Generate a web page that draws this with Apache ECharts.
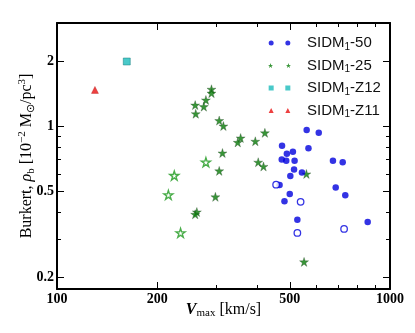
<!DOCTYPE html>
<html lang="en">
<head>
    <meta charset="UTF-8">
    <title>Burkert rho_b vs Vmax</title>
    <script src="https://cdn.jsdelivr.net/npm/echarts@6/dist/echarts.min.js"></script>
</head>
<body style="margin:0;background:#fff;">
<div id="main" style="width: 415px;height:333px;"></div>
<script>
    // tick values
    var xMajor = [100, 200, 500, 1000];
    var xMinor = [300, 400, 600, 700, 800, 900];
    var yMajor = [0.2, 0.5, 1, 2];
    var yMinor = [0.3, 0.4, 0.6, 0.7, 0.8, 0.9];

    // SIDM1-50 (filled / open)
    var sidm50Vmax = [562, 611, 474, 490, 511, 569, 473, 488, 517, 674, 721, 515, 544, 502, 466, 687, 734, 500, 482, 527, 857];
    var sidm50Rho = [0.96, 0.93, 0.81, 0.745, 0.76, 0.79, 0.70, 0.69, 0.69, 0.69, 0.68, 0.63, 0.61, 0.587, 0.533, 0.52, 0.478, 0.484, 0.448, 0.368, 0.36];
    var sidm50OpenVmax = [455, 539, 527, 728];
    var sidm50OpenRho = [0.535, 0.446, 0.32, 0.334];

    // SIDM1-25 (filled / open)
    var sidm25Vmax = [291, 291, 280, 260, 276, 261, 307, 316, 356, 349, 421, 394, 314, 402, 417, 307, 299, 263, 260, 561, 552];
    var sidm25Rho = [1.48, 1.42, 1.32, 1.25, 1.23, 1.14, 1.06, 1.0, 0.88, 0.84, 0.93, 0.85, 0.75, 0.68, 0.65, 0.62, 0.47, 0.40, 0.39, 0.60, 0.235];
    var sidm25OpenVmax = [280, 225, 216, 235];
    var sidm25OpenRho = [0.68, 0.59, 0.48, 0.32];

    // zoom-in runs
    var z12Vmax = [162];
    var z12Rho = [1.99];
    var z11Vmax = [130];
    var z11Rho = [1.47];

    function pairs(xs, ys) {
        return xs.map(function (x, i) { return [x, ys[i]]; });
    }

    var STAR = 'path://M3.5,0L4.29,2.42L6.83,2.42L4.77,3.91L5.56,6.33L3.5,4.84L1.44,6.33L2.23,3.91L0.17,2.42L2.71,2.42Z';

    // legend icons: two markers per entry
    var iconDots = 'path://M0,3A3,3,0,1,1,6,3A3,3,0,1,1,0,3ZM20,3A3,3,0,1,1,26,3A3,3,0,1,1,20,3Z';
    var iconStars = 'path://M3,0L3.674,2.073L5.853,2.073L4.09,3.354L4.763,5.427L3,4.146L1.237,5.427L1.91,3.354L0.147,2.073L2.326,2.073Z' +
        'M23,0L23.674,2.073L25.853,2.073L24.09,3.354L24.763,5.427L23,4.146L21.237,5.427L21.91,3.354L20.147,2.073L22.326,2.073Z';
    var iconSquares = 'path://M0,0L6,0L6,6L0,6ZM20,0L26,0L26,6L20,6Z';
    var iconTris = 'path://M0,6L3,0L6,6ZM20,6L23,0L26,6Z';

    var serif = 'Liberation Serif';

    function tickText(v) {
        return String(+v.toPrecision(6));
    }

    function axisX(pos, vals, major) {
        return {
            type: 'log', logBase: 10, position: pos, min: 100, max: 1000,
            axisLine: {show: major, lineStyle: {color: '#000', width: 2}},
            axisTick: {show: true, inside: true, length: major ? 7 : 4, customValues: vals,
                lineStyle: {color: '#000', width: 1}},
            axisLabel: {show: major && pos === 'bottom', customValues: vals, margin: 3, formatter: tickText,
                color: '#000', fontFamily: serif, fontWeight: 'bold', fontSize: 14},
            splitLine: {show: false},
            minorTick: {show: false}
        };
    }

    function axisY(pos, vals, major) {
        return {
            type: 'log', logBase: 10, position: pos, min: 0.176, max: 3.0,
            axisLine: {show: major, lineStyle: {color: '#000', width: 2}},
            axisTick: {show: true, inside: true, length: major ? 7 : 4, customValues: vals,
                lineStyle: {color: '#000', width: 1}},
            axisLabel: {show: major && pos === 'left', customValues: vals, margin: 3, formatter: tickText,
                color: '#000', fontFamily: serif, fontWeight: 'bold', fontSize: 14},
            splitLine: {show: false},
            minorTick: {show: false}
        };
    }

    var xAxes = [axisX('bottom', xMajor, true), axisX('bottom', xMinor, false),
        axisX('top', xMajor, true), axisX('top', xMinor, false)];
    xAxes[0].name = '{v|V}{sub|max} [km/s]';
    xAxes[0].nameLocation = 'middle';
    xAxes[0].nameGap = 12;
    xAxes[0].nameMoveOverlap = false;
    xAxes[0].nameTextStyle = {
        color: '#000', fontFamily: serif, fontSize: 16, verticalAlign: 'top',
        rich: {
            v: {fontFamily: serif, fontSize: 16, fontWeight: 'bold', fontStyle: 'italic', lineHeight: 18, verticalAlign: 'middle'},
            sub: {fontFamily: serif, fontSize: 11, lineHeight: 18, verticalAlign: 'bottom'}
        }
    };

    var yAxes = [axisY('left', yMajor, true), axisY('left', yMinor, false),
        axisY('right', yMajor, true), axisY('right', yMinor, false)];
    yAxes[0].name = 'Burkert, {i|\u03c1}{sb|b} [10{sp|\u22122} M{sb|\u2299}/pc{sp|3}]';
    yAxes[0].nameLocation = 'middle';
    yAxes[0].nameGap = 20;
    yAxes[0].nameMoveOverlap = false;
    yAxes[0].nameTextStyle = {
        color: '#000', fontFamily: serif, fontSize: 16,
        rich: {
            i: {fontFamily: serif, fontSize: 16, fontStyle: 'italic', lineHeight: 20},
            sb: {fontFamily: serif, fontSize: 11, lineHeight: 20, verticalAlign: 'bottom'},
            sp: {fontFamily: serif, fontSize: 11, lineHeight: 20, verticalAlign: 'top'}
        }
    };

    var chart = echarts.init(document.getElementById('main'));
    var option = {
        animation: false,
        backgroundColor: '#fff',
        grid: {left: 57, right: 25, top: 23, bottom: 44, containLabel: false, outerBoundsMode: 'none'},
        legend: {
            left: 268, top: 34, orient: 'vertical', padding: 0,
            itemWidth: 23, itemHeight: 5, itemGap: 4.5,
            itemStyle: {borderWidth: 0},
            data: [
                {name: 'SIDM1-50', icon: iconDots},
                {name: 'SIDM1-25', icon: iconStars},
                {name: 'SIDM1-Z12', icon: iconSquares},
                {name: 'SIDM1-Z11', icon: iconTris}
            ],
            formatter: function (name) {
                return '{g|}SIDM{s|1}' + name.slice(5);
            },
            textStyle: {
                color: '#111', fontFamily: 'Liberation Sans', fontSize: 15, lineHeight: 18,
                rich: {
                    g: {width: 11, lineHeight: 18},
                    s: {fontFamily: 'Liberation Sans', fontSize: 10, lineHeight: 18, verticalAlign: 'bottom'}
                }
            }
        },
        xAxis: xAxes,
        yAxis: yAxes,
        series: [
            {
                name: 'SIDM1-25', type: 'scatter', symbol: STAR, symbolSize: 9,
                itemStyle: {color: '#067a06', borderColor: '#2e4a2e', borderWidth: 0.4},
                data: pairs(sidm25Vmax, sidm25Rho)
            },
            {
                name: 'SIDM1-25 open', type: 'scatter', symbol: STAR, symbolSize: 9,
                itemStyle: {color: '#fff', borderColor: '#1d991d', borderWidth: 1.4},
                data: pairs(sidm25OpenVmax, sidm25OpenRho)
            },
            {
                name: 'SIDM1-50', type: 'scatter', symbol: 'circle', symbolSize: 6.5,
                itemStyle: {color: '#0000dd'},
                data: pairs(sidm50Vmax, sidm50Rho)
            },
            {
                name: 'SIDM1-50 open', type: 'scatter', symbol: 'circle', symbolSize: 6.5,
                itemStyle: {color: '#fff', borderColor: '#0000dd', borderWidth: 1.3},
                data: pairs(sidm50OpenVmax, sidm50OpenRho)
            },
            {
                name: 'SIDM1-Z12', type: 'scatter', symbol: 'rect', symbolSize: 7,
                itemStyle: {color: '#1cbcbc', borderColor: '#117a7a', borderWidth: 0.6},
                data: pairs(z12Vmax, z12Rho)
            },
            {
                name: 'SIDM1-Z11', type: 'scatter', symbol: 'triangle', symbolSize: 7,
                itemStyle: {color: '#e81010', borderColor: '#a00', borderWidth: 0.4},
                data: pairs(z11Vmax, z11Rho)
            }
        ]
    };
    chart.setOption(option);
</script>
</body>
</html>
